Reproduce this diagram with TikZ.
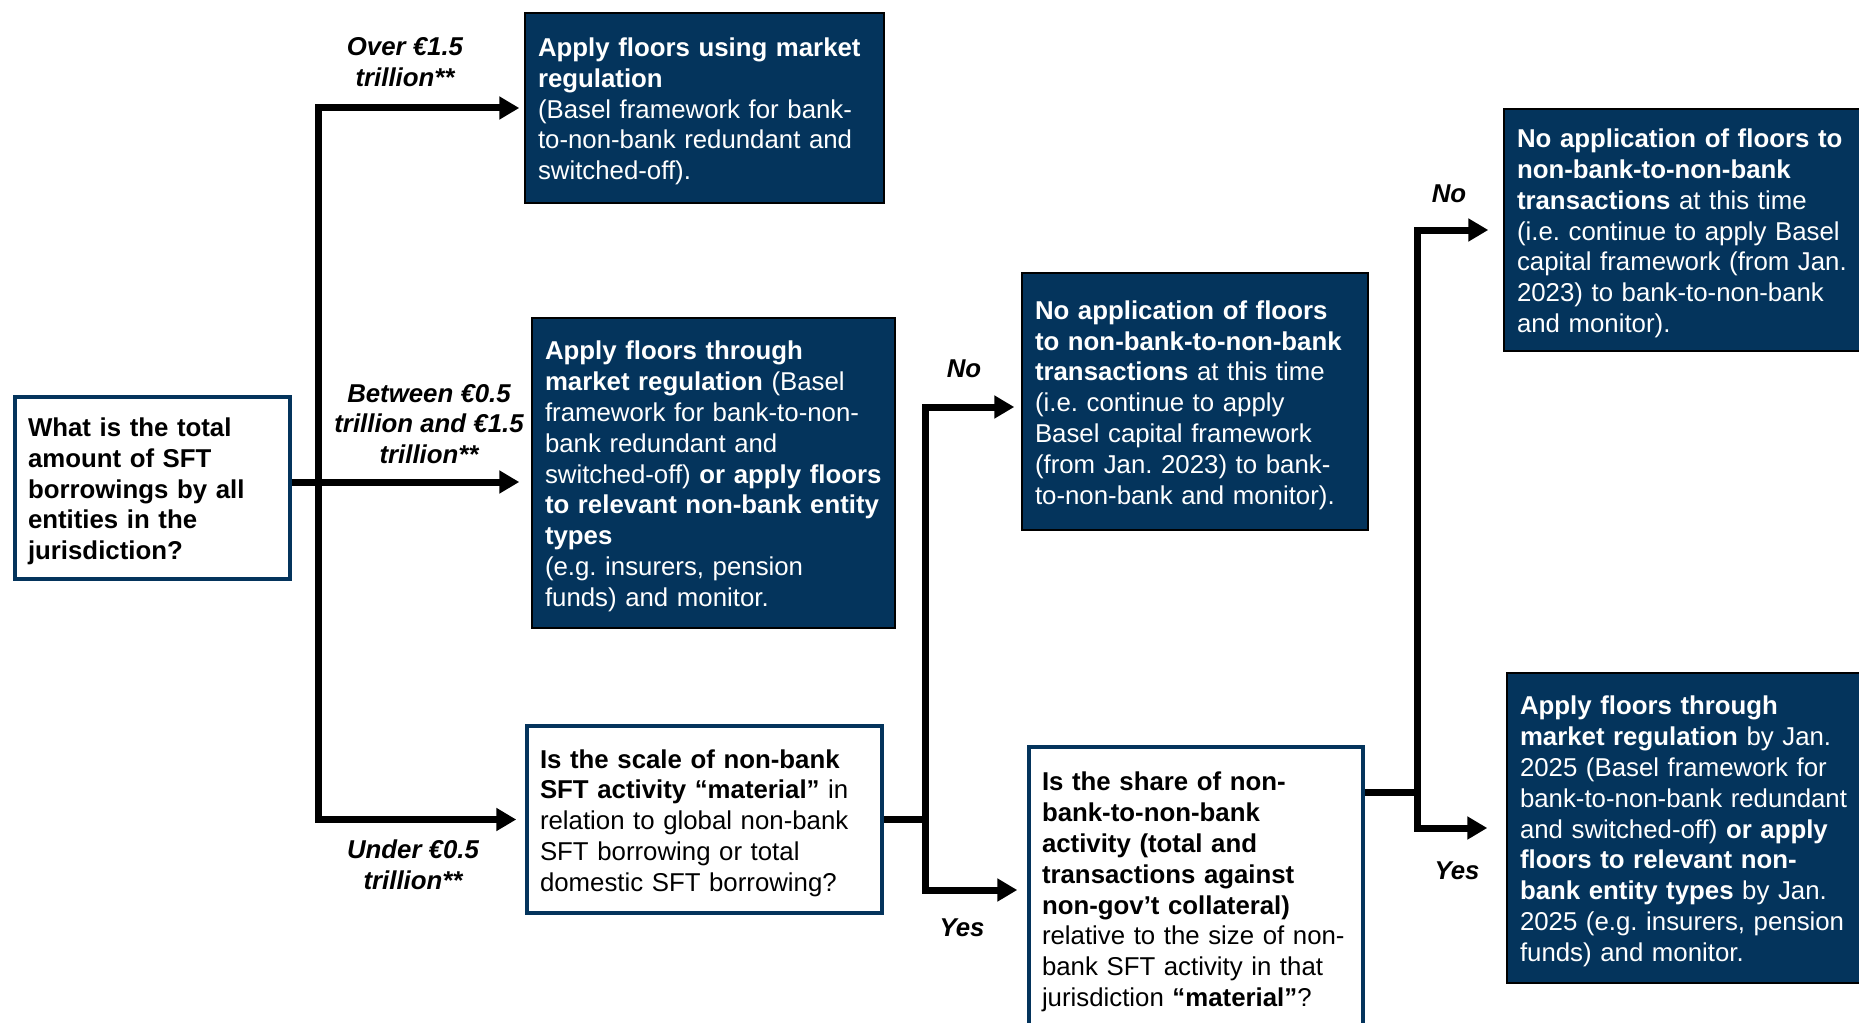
\documentclass[tikz,border=0pt]{standalone}
\usepackage{fontspec}
\setmainfont{Liberation Sans}
\usepackage{tikz}
\usetikzlibrary{positioning}
\usetikzlibrary{arrows.meta}
\definecolor{fsbblue}{RGB}{4,52,92}
\frenchspacing
\newcommand{\basefont}{\fontsize{25.8}{30.8}\selectfont}
\newcommand{\rows}[1]{\raisebox{-4pt}[\height][\depth]{\begin{tabular}{@{}l@{}}#1\end{tabular}}}
\tikzset{dark node/.style={rectangle,draw=black,line width=1.5pt,fill=fsbblue,text=white,inner xsep=13pt,inner ysep=0pt,align=left},
	white node/.style={rectangle,draw=fsbblue,line width=3.5pt,fill=white,text=black,inner xsep=13pt,inner ysep=0pt,align=left},
	branch/.style={font=\basefont\bfseries\itshape,align=center,inner sep=0pt},
	flow/.style={line width=7pt,-{Triangle[length=20pt,width=22pt]}},}

\begin{document}
\begin{tikzpicture}[x=1pt, y=-1pt, font=\basefont]
	\path[use as bounding box, fill=white] (0,0) rectangle (1859,1022);

	% first question and its three answers
	\node[white node, text width=249pt, minimum height=182pt] (total) at (152.5,488) {\rows{\textbf{What is the total}\\ \textbf{amount of SFT}\\ \textbf{borrowings by all}\\ \textbf{entities in the}\\ \textbf{jurisdiction?}}};
	\node[dark node, text width=333pt, minimum height=190pt] (usemarket) at (704.5,108) {\rows{\textbf{Apply floors using market}\\ \textbf{regulation}\\ (Basel framework for bank-\\ to-non-bank redundant and\\ switched-off).}};
	\node[dark node, text width=337pt, minimum height=310pt] (through) at (713.5,473) {\rows{\textbf{Apply floors through}\\ \textbf{market regulation} (Basel\\ framework for bank-to-non-\\ bank redundant and\\ switched-off) \textbf{or apply floors}\\ \textbf{to relevant non-bank entity}\\ \textbf{types}\\ (e.g. insurers, pension\\ funds) and monitor.}};
	\node[white node, text width=329pt, minimum height=187pt] (scale) at (704.5,819.5) {\rows{\textbf{Is the scale of non-bank}\\ \textbf{SFT activity “material”} in\\ relation to global non-bank\\ SFT borrowing or total\\ domestic SFT borrowing?}};

	% second and third questions
	\node[dark node, text width=320pt, minimum height=257pt] (nofloorsa) at (1195,401.5) {\rows{\textbf{No application of floors}\\ \textbf{to non-bank-to-non-bank}\\ \textbf{transactions} at this time\\ (i.e. continue to apply\\ Basel capital framework\\ (from Jan. 2023) to bank-\\ to-non-bank and monitor).}};
	\node[white node, text width=308pt, minimum height=283pt] (share) at (1196,888.5) {\rows{\textbf{Is the share of non-}\\ \textbf{bank-to-non-bank}\\ \textbf{activity (total and}\\ \textbf{transactions against}\\ \textbf{non-gov’t collateral)}\\ relative to the size of non-\\ bank SFT activity in that\\ jurisdiction \textbf{“material”}?}};
	\node[dark node, text width=350pt, minimum height=242pt] (nofloorsb) at (1692,230) {\rows{\textbf{No application of floors to}\\ \textbf{non-bank-to-non-bank}\\ \textbf{transactions} at this time\\ (i.e. continue to apply Basel\\ capital framework (from Jan.\\ 2023) to bank-to-non-bank\\ and monitor).}};
	\node[dark node, text width=347pt, minimum height=310pt] (byjan) at (1693.5,828) {\rows{\textbf{Apply floors through}\\ \textbf{market regulation} by Jan.\\ 2025 (Basel framework for\\ bank-to-non-bank redundant\\ and switched-off) \textbf{or apply}\\ \textbf{floors to relevant non-}\\ \textbf{bank entity types} by Jan.\\ 2025 (e.g. insurers, pension\\ funds) and monitor.}};

	% branch labels
	\node[branch] (over) at (405,62) {Over €1.5\\trillion**};
	\node[branch] (between) at (429,424) {Between €0.5\\trillion and €1.5\\trillion**};
	\node[branch] (under) at (413,865) {Under €0.5\\trillion**};
	\node[branch] (noa) at (964,369) {No};
	\node[branch] (yesa) at (962,928) {Yes};
	\node[branch] (nob) at (1449,194) {No};
	\node[branch] (yesb) at (1457,871) {Yes};

	% connectors
	\coordinate (j1) at (318,482);
	\draw[flow, shorten >=12pt] (total.east |- j1) -- (j1 -| through.west);
	\draw[flow, shorten >=5pt] (j1) |- (usemarket.west);
	\draw[flow, shorten >=9pt] (j1) |- (scale.west);

	\coordinate[right=42pt of scale.east] (j2);
	\draw[flow, shorten >=7pt] (scale.east) -- (j2) |- (nofloorsa.west |- 0,407);
	\draw[flow, shorten >=10pt] (j2) |- (share.west |- 0,890);

	\coordinate (j3) at (1417,792);
	\draw[flow, shorten >=15pt] (share.east |- j3) -- (j3) |- (nofloorsb.west);
	\draw[flow, shorten >=19pt] (j3) |- (byjan.west);
\end{tikzpicture}
\end{document}
